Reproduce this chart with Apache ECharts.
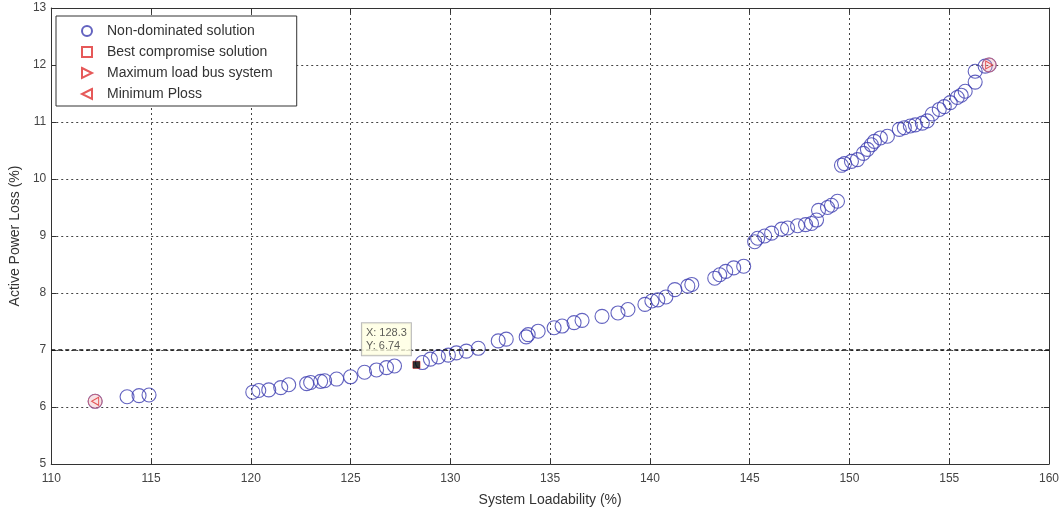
<!DOCTYPE html>
<html>
<head>
<meta charset="utf-8">
<script src="https://cdn.jsdelivr.net/npm/echarts@6/dist/echarts.min.js"></script>
<style>
html,body{margin:0;padding:0;background:#fff;}
#chart{width:1064px;height:512px;}
</style>
</head>
<body>
<div id="chart"></div>
<script>
// ---- data ----
const xTicks = [110,115,120,125,130,135,140,145,150,155,160];
const yTicks = [5,6,7,8,9,10,11,12,13];
const nonDominated = [
  [112.2,6.10],[157.0,12.0],
  [113.8,6.18],[114.4,6.20],[114.9,6.21],
  [120.1,6.26],[120.4,6.29],[120.9,6.30],[121.5,6.34],[121.9,6.39],[122.8,6.41],[123.0,6.43],
  [123.5,6.45],[123.7,6.46],[124.3,6.49],[125.0,6.53],[125.7,6.61],[126.3,6.65],[126.8,6.69],[127.2,6.72],
  [128.6,6.78],[129.0,6.84],[129.4,6.88],[129.9,6.91],[130.3,6.95],[130.8,6.98],[131.4,7.03],
  [132.4,7.16],[132.8,7.19],[133.8,7.23],[133.9,7.27],[134.4,7.33],[135.2,7.39],[135.6,7.42],
  [136.2,7.48],[136.6,7.52],[137.6,7.59],[138.4,7.65],[138.9,7.71],[139.75,7.80],[140.1,7.86],
  [140.4,7.88],[140.8,7.93],[141.25,8.06],[141.9,8.12],[142.1,8.15],
  [143.25,8.26],[143.5,8.32],[143.8,8.38],[144.2,8.44],[144.7,8.47],
  [145.25,8.90],[145.4,8.96],[145.75,9.00],[146.1,9.05],[146.6,9.12],[146.9,9.14],[147.4,9.18],
  [147.8,9.20],[148.1,9.22],[148.35,9.28],[148.45,9.45],[148.9,9.50],[149.1,9.54],[149.4,9.61],
  [149.6,10.24],[149.75,10.27],[150.1,10.31],[150.4,10.34],[150.7,10.45],[150.9,10.52],[151.1,10.60],
  [151.25,10.66],[151.55,10.72],[151.9,10.75],[152.5,10.87],[152.75,10.90],[153.05,10.93],[153.3,10.95],
  [153.65,10.98],[153.9,11.02],[154.15,11.14],[154.5,11.22],[154.75,11.27],[155.05,11.34],[155.4,11.43],
  [155.6,11.47],[155.8,11.54],[156.3,11.70],[156.3,11.89],[156.8,11.98]
];
const bestCompromise = [[128.3,6.74]];
const maxLoadBus = [[157.0,12.0]];
const minPloss = [[112.2,6.10]];
const dataTip = [[128.3,6.74]];
const seriesNames = ['Non-dominated solution','Best compromise solution','Maximum load bus system','Minimum Ploss'];
const xTitle = 'System Loadability (%)';
const yTitle = 'Active Power Loss (%)';

// ---- chart ----
const chart = echarts.init(document.getElementById('chart'), null, {renderer:'canvas'});
const FONT = 'Liberation Sans, Arial, sans-serif';
const blue = '#3c3cb0';
const red = '#e03030';
const SQUARE = 'path://M0,0 L10,0 L10,10 L0,10 Z';
const TRI_R = 'path://M0,0 L10,5 L0,10 Z';
const TRI_L = 'path://M10,0 L0,5 L10,10 Z';
const gridLine = {show:true, lineStyle:{color:'#444', type:[2,3], width:1}};
const axisCommon = {
  axisLine:{show:true, onZero:false, lineStyle:{color:'#333', width:1}},
  axisTick:{show:true, inside:true, length:5, lineStyle:{color:'#333'}},
};
const option = {
  animation:false,
  backgroundColor:'#fff',
  grid:{left:47, right:15, top:8, bottom:45, containLabel:false},
  legend:{
    orient:'vertical', left:56, top:16,
    padding:[8,24,5,25],
    itemWidth:30, itemHeight:10, itemGap:7,
    borderColor:'#333', borderWidth:1, backgroundColor:'#fff',
    textStyle:{fontFamily:FONT, fontSize:14, color:'#333'},
    data:seriesNames
  },
  xAxis:[
    Object.assign({type:'value', min:110, max:160, interval:5, position:'bottom',
      name:xTitle, nameLocation:'middle', nameGap:29,
      nameTextStyle:{fontFamily:FONT, fontSize:14, color:'#333'},
      axisLabel:{fontFamily:FONT, fontSize:12, color:'#444', margin:9,
        formatter:v=>xTicks.includes(v)?String(v):''},
      splitLine:gridLine}, axisCommon),
    Object.assign({type:'value', min:110, max:160, interval:5, position:'top',
      axisLabel:{show:false}, splitLine:{show:false}}, axisCommon)
  ],
  yAxis:[
    Object.assign({type:'value', min:5, max:13, interval:1, position:'left',
      name:yTitle, nameLocation:'middle', nameGap:26, nameRotate:90,
      nameTextStyle:{fontFamily:FONT, fontSize:14, color:'#333'},
      axisLabel:{fontFamily:FONT, fontSize:12, color:'#444', margin:5,
        formatter:v=>yTicks.includes(v)?String(v):''},
      splitLine:gridLine}, axisCommon),
    Object.assign({type:'value', min:5, max:13, interval:1, position:'right',
      axisLabel:{show:false}, splitLine:{show:false}}, axisCommon)
  ],
  series:[
    {
      name:seriesNames[0], type:'scatter', data:nonDominated,
      symbol:'circle', symbolSize:14,
      itemStyle:{color:'transparent', borderColor:blue, borderWidth:1.1},
      markLine:{silent:true, symbol:'none', label:{show:false},
        lineStyle:{color:'#111', type:[4,3], width:1.5},
        data:[{yAxis:7}]},
      z:3
    },
    {
      name:seriesNames[1], type:'scatter', data:bestCompromise,
      symbol:SQUARE, symbolSize:7,
      itemStyle:{color:'transparent', borderColor:red, borderWidth:1}, z:4
    },
    {
      name:seriesNames[2], type:'scatter', data:maxLoadBus,
      symbol:TRI_R, symbolSize:[7,8],
      itemStyle:{color:'transparent', borderColor:red, borderWidth:1}, z:4
    },
    {
      name:seriesNames[3], type:'scatter', data:minPloss,
      symbol:TRI_L, symbolSize:[7,8],
      itemStyle:{color:'transparent', borderColor:red, borderWidth:1}, z:4
    },
    {
      name:'datatip', type:'scatter', data:dataTip,
      symbol:'rect', symbolSize:7,
      itemStyle:{color:'#000'},
      label:{show:true, position:[-51,-38],
        formatter:p=>'X: '+p.value[0]+'\nY: '+p.value[1],
        fontFamily:FONT, fontSize:11, color:'#333', lineHeight:13,
        backgroundColor:'#ffffe1', borderColor:'#aaa', borderWidth:1, padding:[3,4]},
      z:6
    },
    {
      name:'endpoints', type:'scatter', data:minPloss.concat(maxLoadBus),
      symbol:'circle', symbolSize:14,
      itemStyle:{color:'rgba(230,150,160,0.35)', borderColor:'#d06070', borderWidth:1}, z:3.5
    }
  ]
};
chart.setOption(option);
</script>
</body>
</html>
